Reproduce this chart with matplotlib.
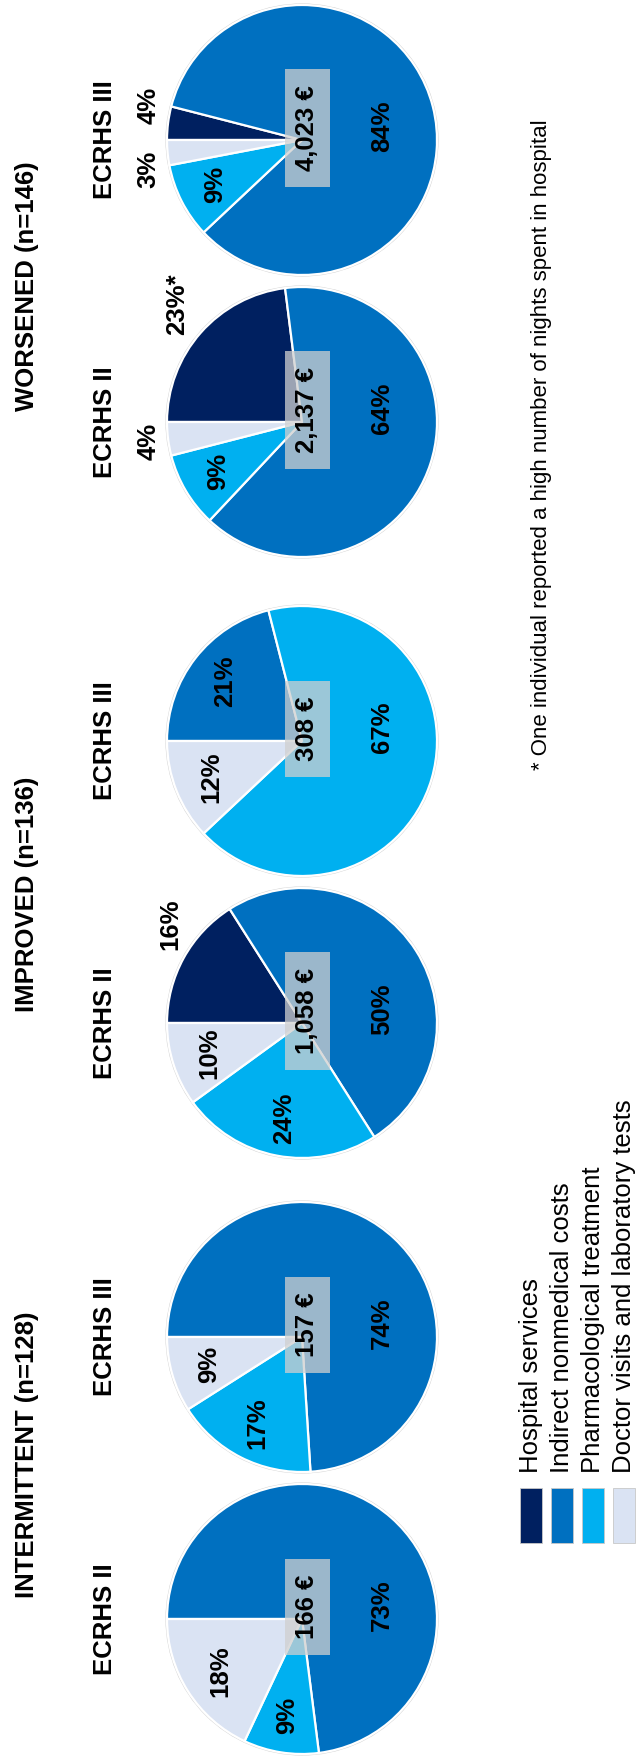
import numpy as np
import matplotlib
matplotlib.use("Agg")
import matplotlib.pyplot as plt
from matplotlib.patches import Rectangle, Circle

plt.rcParams['font.family'] = ['Liberation Sans', 'DejaVu Sans']

categories = ["Hospital services", "Indirect nonmedical costs",
              "Pharmacological treatment", "Doctor visits and laboratory tests"]
colors = ["#002060", "#0070C0", "#00B0F0", "#DAE3F3"]

groups = ["INTERMITTENT (n=128)", "IMPROVED (n=136)", "WORSENED (n=146)"]
waves = ["ECRHS II", "ECRHS III"]

# share of total costs (%) per category, in the order of `categories`
intermittent_ii = [0, 73, 9, 18]
intermittent_iii = [0, 74, 17, 9]
improved_ii = [16, 50, 24, 10]
improved_iii = [0, 21, 67, 12]
worsened_ii = [23, 64, 9, 4]
worsened_iii = [4, 84, 9, 3]

# mean total costs per person
totals = [["166 €", "157 €"], ["1,058 €", "308 €"], ["2,137 €", "4,023 €"]]

starred = (2, 0, 0)  # group, wave, category that gets the footnote mark
footnote = "* One individual reported a high number of nights spent in hospital"

shares = [[intermittent_ii, intermittent_iii],
          [improved_ii, improved_iii],
          [worsened_ii, worsened_iii]]

W, H = 642, 1762
R = 135
PIE_X = 302
FS = 18.5


def Y(y):
    # layout measured from the top of the page
    return H - y


def draw_pie(ax, vals, cx, cy, total, star=None):
    vals = np.array(vals, float)
    keep = vals > 0
    idxs = np.flatnonzero(keep)
    wedges, _ = ax.pie(vals[keep], colors=[colors[i] for i in idxs],
                       startangle=180, counterclock=False,
                       center=(cx, Y(cy)), radius=R,
                       wedgeprops=dict(edgecolor='white', linewidth=1.6))
    ax.add_patch(Circle((cx, Y(cy)), R + 1, fill=False, ec='#d4d4d4',
                        lw=0.8, zorder=0.9))

    outside = []
    for w, i in zip(wedges, idxs):
        v = vals[i]
        label = f"{v:.0f}%" + ("*" if star == i else "")
        mid = (w.theta1 + w.theta2) / 2
        if i == 0 or v <= 5:
            if v > 10:
                mid = (mid + 135) / 2
            mid = np.deg2rad(mid)
            L = 0.6 * FS * 100 / 72 * len(label)
            d = R + 8 + 0.5 * (abs(np.cos(mid)) * 20 + abs(np.sin(mid)) * L)
            outside.append([cx + d * np.cos(mid), Y(cy) + d * np.sin(mid), label])
            continue
        mid = np.deg2rad(mid)
        if v >= 50:
            mid = np.deg2rad(10)
            d = 0.6 * R
        else:
            d = 0.72 * R
        ax.text(cx + d * np.cos(mid), Y(cy) + d * np.sin(mid), label,
                rotation=90, ha='center', va='center', fontsize=FS,
                fontweight='bold', color='black', zorder=5)

    # keep neighbouring outside labels from running into each other
    outside.sort(key=lambda o: o[1])
    for a, b in zip(outside[:-1], outside[1:]):
        gap = b[1] - a[1]
        if gap < 64:
            a[1] -= (64 - gap) / 2
            b[1] += (64 - gap) / 2
    for x, y, label in outside:
        ax.text(x, y, label, rotation=90, ha='center', va='center',
                fontsize=FS, fontweight='bold', color='black', zorder=5)

    t = ax.text(cx + 5, Y(cy - 12), total, rotation=90, ha='center',
                va='center', fontsize=FS, fontweight='bold', zorder=6)
    return t


def main():
    fig = plt.figure(figsize=(W / 100, H / 100), dpi=100)
    ax = fig.add_axes([0, 0, 1, 1])

    group_mid = [1478, 882, 281]
    group_title_y = [1455, 894, 286]
    wave_offset = [141, -141]

    total_texts = []
    for g, name in enumerate(groups):
        ax.text(27, Y(group_title_y[g]), name, rotation=90, ha='center',
                va='center', fontsize=FS, fontweight='bold')
        for k, wave in enumerate(waves):
            cy = group_mid[g] + wave_offset[k]
            ax.text(105, Y(cy), wave, rotation=90, ha='center', va='center',
                    fontsize=FS, fontweight='bold')
            star = starred[2] if (g, k) == starred[:2] else None
            total_texts.append(draw_pie(ax, shares[g][k], PIE_X, cy,
                                        totals[g][k], star))

    # legend
    leg_x = [531, 562, 593, 624]
    for c, x in enumerate(leg_x):
        ax.add_patch(Rectangle((x - 11, Y(1543)), 22, 55, fc=colors[c],
                               ec='#c8c8c8', lw=0.6))
        ax.text(x, Y(1473), categories[c], rotation=90, ha='center',
                va='bottom', fontsize=FS)

    ax.text(541, Y(770), footnote, rotation=90, ha='center', va='bottom',
            fontsize=16)

    ax.set_xlim(0, W)
    ax.set_ylim(0, H)
    ax.axis('off')

    # grey boxes behind the totals
    fig.canvas.draw()
    renderer = fig.canvas.get_renderer()
    inv = ax.transData.inverted()
    for t in total_texts:
        bb = t.get_window_extent(renderer)
        (x0, y0), (x1, y1) = inv.transform([[bb.x0, bb.y0], [bb.x1, bb.y1]])
        xc = (x0 + x1) / 2
        ax.add_patch(Rectangle((xc - 22.5, y0 - 16), 45, (y1 - y0) + 32,
                               fc='#d0d0d0', ec='none', alpha=0.75, zorder=4))

    fig.savefig("out.png", dpi=100)


if __name__ == "__main__":
    main()
